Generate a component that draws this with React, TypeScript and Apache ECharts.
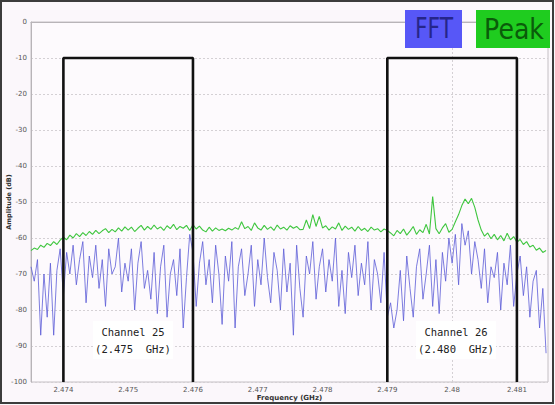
import React, { useEffect, useRef } from 'react';
import * as echarts from 'echarts';

// Frequency sampling grid (GHz)
const FREQ_START = 2.4735;
const FREQ_STEP = 0.00005;

// FFT trace (dB), 160 samples
const fftValues = [
  -68, -72, -66, -87, -70, -82, -67, -87, -69, -63,
  -76, -64, -70, -62, -73, -66, -61, -78, -65, -71,
  -62, -74, -66, -79, -63, -70, -68, -60, -75, -67,
  -72, -63, -80, -67, -61, -74, -69, -77, -64, -81,
  -68, -62, -82, -70, -66, -76, -63, -85, -71, -59,
  -64, -79, -67, -61, -73, -66, -78, -62, -70, -84,
  -65, -72, -61, -85, -68, -63, -76, -70, -62, -79,
  -66, -73, -60, -71, -78, -64, -69, -80, -63, -75,
  -67, -87, -62, -74, -82, -65, -70, -61, -77, -68,
  -63, -75, -66, -72, -60, -79, -69, -81, -64, -71,
  -62, -76, -67, -73, -61, -80, -66, -70, -78, -64,
  -82, -78, -85, -80, -69, -83, -65, -74, -82, -68,
  -63, -77, -70, -62, -79, -66, -81, -64, -72, -60,
  -67, -59, -73, -56, -62, -58, -70, -61, -66, -74,
  -63, -78, -68, -71, -64, -80, -67, -73, -62, -79,
  -70, -65, -76, -68, -82, -72, -69, -85, -74, -92,
];

// Peak-hold trace (dB), 160 samples
const peakValues = [
  -63.5, -62.8, -63.2, -62.0, -62.6, -61.5, -62.1, -61.0, -61.8, -60.6, -59.8,
  -60.5, -59.2, -60.0, -58.8, -59.6, -58.5, -59.3, -58.2, -59.0, -57.9,
  -58.8, -58.0, -57.4, -58.5, -57.6, -58.3, -57.2, -58.1, -56.9, -57.8,
  -57.0, -58.2, -57.3, -56.5, -57.8, -56.8, -57.6, -56.4, -57.5, -56.9,
  -57.9, -56.6, -57.4, -56.2, -57.7, -56.8, -57.3, -56.5, -57.9, -56.3,
  -57.5, -56.7, -57.8, -58.3, -57.0, -58.1, -57.2, -57.9, -57.5, -58.0,
  -57.3, -57.8, -57.1, -57.6, -55.5, -57.4, -56.8, -57.9, -55.8, -57.2,
  -57.8, -56.5, -57.6, -56.9, -57.9, -56.4, -57.5, -57.0, -57.8, -56.6,
  -57.3, -56.8, -57.7,
  -57.6, -55.0, -57.4, -53.5, -56.8, -54.0, -57.2,
  -56.6, -57.8, -56.9, -57.5, -55.8, -57.9, -56.7, -57.6, -57.0, -58.1,
  -56.8, -57.9, -57.3, -58.2, -57.0, -57.8, -57.4, -58.3, -57.5, -57.9,
  -58.6, -59.4, -57.9, -58.8, -57.5, -59.2, -58.1, -56.8, -59.0, -57.7,
  -58.5, -56.2, -58.9, -48.5, -57.4, -58.8, -57.2, -56.0, -58.4, -57.6,
  -55.5, -53.5, -51.0, -49.2, -50.5, -49.0, -51.5, -55.0, -57.8, -59.5,
  -58.6, -60.2, -59.0, -60.5, -59.3,
  -60.8, -58.7, -60.5, -59.6, -61.2, -60.4, -61.8, -61.0, -62.5, -62.0,
  -63.4, -62.8, -64.0, -63.5,
];

// Axis ticks
const xTicks = [2.474, 2.475, 2.476, 2.477, 2.478, 2.479, 2.48, 2.481];
const X_MIN = 2.4735;
const X_MAX = 2.48148;
const Y_MIN = -100;
const Y_MAX = 0;

// Channel masks
const channelStart = [2.474, 2.479];
const channelEnd = [2.476, 2.481];
const channelTop = -10;
const channelNames = ['Channel 25', 'Channel 26'];
const channelFreqs = ['(2.475  GHz)', '(2.480  GHz)'];

const legendNames = ['FFT', 'Peak'];

export default function App() {
  const ref = useRef<HTMLDivElement>(null);

  useEffect(() => {
    const chart = echarts.init(ref.current!, null, { renderer: 'svg' });
    const freqs = fftValues.map((_, i) => +(FREQ_START + i * FREQ_STEP).toFixed(5));
    const fftData = fftValues.map((v, i) => [freqs[i], v]);
    const peakData = peakValues.map((v, i) => [freqs[i], v]);

    const gridLine = { color: '#d4d0d4', width: 1, type: [2, 2] as any };

    const channelSeries = channelStart.map((s, k) => ({
      type: 'line',
      data: [
        [s, Y_MIN],
        [s, channelTop],
        [channelEnd[k], channelTop],
        [channelEnd[k], Y_MIN],
      ],
      showSymbol: false,
      symbol: 'none',
      lineStyle: { color: '#111', width: 2.6 },
      z: 10,
      silent: true,
    }));

    const labelCenters = [133, 456];
    const channelGraphics: any[] = [];
    labelCenters.forEach((cx, k) => {
      channelGraphics.push({
        type: 'rect',
        shape: { x: cx - 40, y: 321, width: 80, height: 38 },
        style: { fill: '#ffffff' },
        z: 5,
      });
      channelGraphics.push({
        type: 'text',
        style: {
          text: channelNames[k],
          x: cx,
          y: 332,
          font: '10.5px "DejaVu Sans Mono"',
          fill: '#222',
          textAlign: 'center',
          textVerticalAlign: 'middle',
        },
        z: 20,
      });
      channelGraphics.push({
        type: 'text',
        style: {
          text: channelFreqs[k],
          x: cx,
          y: 349,
          font: '10.5px "DejaVu Sans Mono"',
          fill: '#222',
          textAlign: 'center',
          textVerticalAlign: 'middle',
        },
        z: 20,
      });
    });

    const option: any = {
      animation: false,
      backgroundColor: '#fbf7fb',
      grid: {
        left: 31,
        right: 7,
        top: 22,
        bottom: 23,
        containLabel: false,
        outerBoundsMode: 'none',
        show: true,
        borderColor: '#c4c0c4',
        borderWidth: 1,
        backgroundColor: '#fdfafd',
      },
      xAxis: {
        type: 'value',
        min: X_MIN,
        max: X_MAX,
        name: 'Frequency (GHz)',
        nameLocation: 'middle',
        nameGap: 12,
        nameMoveOverlap: false,
        nameTextStyle: { fontSize: 7, fontWeight: 'bold', color: '#333', fontFamily: 'DejaVu Sans' },
        axisLine: { lineStyle: { color: '#b8b4b8' } },
        axisTick: { show: false, customValues: xTicks },
        axisLabel: {
          customValues: xTicks,
          fontSize: 7,
          color: '#555',
          margin: 4,
          fontFamily: 'DejaVu Sans',
        },
        splitLine: { show: false },
      },
      yAxis: {
        type: 'value',
        min: Y_MIN,
        max: Y_MAX,
        interval: 10,
        name: 'Amplitude (dB)',
        nameLocation: 'middle',
        nameGap: 19,
        nameMoveOverlap: false,
        nameTextStyle: { fontSize: 6.5, fontWeight: 'bold', color: '#333', fontFamily: 'DejaVu Sans' },
        axisLine: { show: true, lineStyle: { color: '#b8b4b8' } },
        axisTick: { show: false },
        axisLabel: { fontSize: 7, color: '#555', margin: 4, fontFamily: 'DejaVu Sans' },
        splitLine: { show: true, lineStyle: gridLine },
      },
      series: [
        {
          name: legendNames[0],
          type: 'line',
          data: fftData,
          showSymbol: false,
          symbol: 'none',
          lineStyle: { color: 'rgba(92,92,215,0.8)', width: 1 },
          z: 3,
          silent: true,
          markLine: {
            silent: true,
            symbol: 'none',
            label: { show: false },
            lineStyle: gridLine,
            data: xTicks.map((t) => ({ xAxis: t })),
            z: 1,
          },
        },
        {
          name: legendNames[1],
          type: 'line',
          data: peakData,
          showSymbol: false,
          symbol: 'none',
          lineStyle: { color: '#3fc63f', width: 1.1 },
          z: 4,
          silent: true,
        },
        ...channelSeries,
      ],
      graphic: [
        {
          type: 'rect',
          shape: { x: 405, y: 10, width: 57, height: 38 },
          style: { fill: '#5757f7' },
          z: 30,
        },
        {
          type: 'text',
          x: 434,
          y: 29,
          scaleX: 0.78,
          style: {
            text: legendNames[0],
            x: 0,
            y: 0,
            font: '28px "DejaVu Sans"',
            fill: '#26268a',
            textAlign: 'center',
            textVerticalAlign: 'middle',
          },
          z: 31,
        },
        {
          type: 'rect',
          shape: { x: 476, y: 10, width: 74, height: 38 },
          style: { fill: '#1fcc1f' },
          z: 30,
        },
        {
          type: 'text',
          x: 514,
          y: 29,
          scaleX: 0.9,
          style: {
            text: legendNames[1],
            x: 0,
            y: 0,
            font: '28px "DejaVu Sans"',
            fill: '#0a5c0a',
            textAlign: 'center',
            textVerticalAlign: 'middle',
          },
          z: 31,
        },
        ...channelGraphics,
        {
          type: 'rect',
          shape: { x: 1, y: 1, width: 552, height: 402 },
          style: { fill: 'none', stroke: '#3c3c3c', lineWidth: 2 },
          z: 40,
          silent: true,
        },
      ],
    };

    chart.setOption(option);
    return () => chart.dispose();
  }, []);

  return (
    <div
      ref={ref}
      style={{ position: 'fixed', left: 0, top: 0, width: 555, height: 405 }}
    />
  );
}
